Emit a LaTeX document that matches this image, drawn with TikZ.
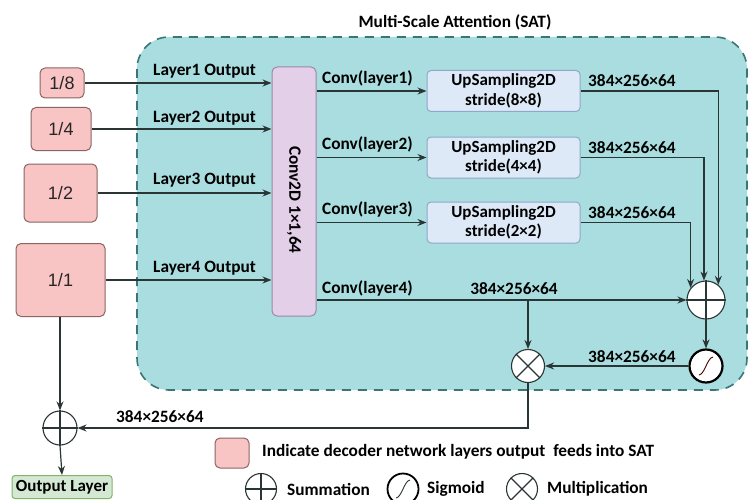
\documentclass[tikz,border=0pt]{standalone}
\usepackage{fontspec}
\setmainfont{Carlito}
\newfontfamily\arialf{Liberation Sans}
\usetikzlibrary{arrows.meta}
\definecolor{satfill}{HTML}{A9DDDF}
\definecolor{satline}{HTML}{3A7676}
\definecolor{pinkf}{HTML}{F8C4C4}
\definecolor{pinkd}{HTML}{8A6464}
\definecolor{lavf}{HTML}{E3CFE8}
\definecolor{lavd}{HTML}{9A88AA}
\definecolor{bluef}{HTML}{DDE9F7}
\definecolor{blued}{HTML}{8EA9C9}
\definecolor{greenf}{HTML}{D5E8D4}
\definecolor{greend}{HTML}{82B366}
\definecolor{ink}{HTML}{2A3535}
\tikzset{
  x=1pt, y=-1pt,
  lbl/.style={font=\fontsize{17.3}{19}\bfseries\selectfont, text=black, inner sep=0pt},
  dim/.style={font=\fontsize{17.3}{19}\bfseries\selectfont, text=black, inner sep=0pt},
  pinkbox/.style={draw=pinkd, fill=pinkf, line width=1pt, rounded corners=5pt, font=\arialf\fontsize{18}{20}\selectfont, text=black!85, inner sep=0pt},
  upbox/.style={draw=blued, fill=bluef, line width=1pt, rounded corners=4pt, minimum width=153pt, minimum height=41pt, inner sep=0pt, align=center, font=\fontsize{17}{19.5}\bfseries\selectfont},
  opc/.style={circle, draw=ink, fill=white, line width=1.1pt, inner sep=0pt},
  arr/.style={draw=ink, line width=1.2pt, -{Stealth[length=9pt,width=7pt]}},
  ln/.style={draw=ink, line width=1.1pt},
}
\begin{document}
\begin{tikzpicture}
\useasboundingbox (0,0) rectangle (749,500);
% SAT region
\draw[fill=satfill, draw=satline, line width=1.6pt, dash pattern=on 9pt off 7pt, rounded corners=32pt] (137,37) rectangle (747,390);
\node[lbl] (title) at (455,22) {Multi-Scale Attention (SAT)};

% pink input boxes
\node[pinkbox, minimum width=44pt, minimum height=30pt] (b8) at (62,83) {1/8};
\node[pinkbox, minimum width=60pt, minimum height=43pt] (b4) at (61,129) {1/4};
\node[pinkbox, minimum width=73pt, minimum height=58pt] (b2) at (60.5,193) {1/2};
\node[pinkbox, minimum width=89pt, minimum height=73pt] (b1) at (60.5,280) {1/1};

% conv2d
\node[draw=lavd, fill=lavf, line width=1pt, rounded corners=5pt, minimum width=44pt, minimum height=249pt, inner sep=0pt] (conv) at (294,191.5) {};
\node[lbl, rotate=-90] (convt) at (294,200) {Conv2D 1×1,64};

\draw[arr] (b8.east) -- (b8.east -| conv.west);
\draw[arr] (b4.east) -- (b4.east -| conv.west);
\draw[arr] (b2.east) -- (b2.east -| conv.west);
\draw[arr] (b1.east) -- (b1.east -| conv.west);
\node[lbl, anchor=west] (l1) at (153,71) {Layer1 Output};
\node[lbl, anchor=west] (l2) at (153,118) {Layer2 Output};
\node[lbl, anchor=west] (l3) at (153,180) {Layer3 Output};
\node[lbl, anchor=west] (l4) at (153,268) {Layer4 Output};

% upsampling
\node[upbox] (u1) at (503.5,91) {UpSampling2D\\stride(8×8)};
\node[upbox] (u2) at (503.5,157.5) {UpSampling2D\\stride(4×4)};
\node[upbox] (u3) at (503.5,222.5) {UpSampling2D\\stride(2×2)};
\draw[arr] (conv.east |- u1.west) -- (u1.west);
\draw[arr] (conv.east |- u2.west) -- (u2.west);
\draw[arr] (conv.east |- u3.west) -- (u3.west);
\node[lbl, anchor=west] (c1) at (322,78) {Conv(layer1)};
\node[lbl, anchor=west] (c2) at (322,144) {Conv(layer2)};
\node[lbl, anchor=west] (c3) at (322,209) {Conv(layer3)};
\node[lbl, anchor=west] (c4) at (322,288) {Conv(layer4)};

% operators
\node[opc, minimum size=38pt] (plus) at (706,300) {};
\draw[ln] (plus.north) -- (plus.south) (plus.west) -- (plus.east);
\node[opc, minimum size=33pt] (mult) at (528,366) {};
\draw[ln] (mult.45) -- (mult.225) (mult.135) -- (mult.315);
\node[opc, minimum size=33pt, line width=2.2pt, draw=black] (sig) at (706,366) {};
\draw[line width=0.9pt, draw=black!70!red] ([shift={(-7,9)}]sig.center) .. controls ([shift={(-1,8)}]sig.center) and ([shift={(1,-8)}]sig.center) .. ([shift={(7,-9)}]sig.center);

\draw[arr] (u1.east) -| (plus.51);
\draw[arr] (u2.east) -| (plus.96);
\draw[arr] (u3.east) -| (plus.142);
\node[dim, anchor=west] (d1) at (588,81) {384×256×64};
\node[dim, anchor=west] (d2) at (588,148) {384×256×64};
\node[dim, anchor=west] (d3) at (588,213) {384×256×64};

\draw[arr] (conv.east |- plus.west) -- (plus.west);
\node[dim] (d4) at (514,289) {384×256×64};
\draw[arr] (mult |- plus.west) -- (mult.north);
\draw[arr] (plus.south) -- (sig.north);
\draw[arr] (sig.west) -- (mult.east);
\node[dim, anchor=west] (d5) at (588,357) {384×256×64};

% final sum
\node[opc, minimum size=34pt] (lp) at (60,428) {};
\draw[ln] (lp.north) -- (lp.south) (lp.west) -- (lp.east);
\draw[arr] (mult.south) |- (lp.east);
\node[dim, anchor=west] (d6) at (116,417) {384×256×64};
\draw[arr] (b1.south -| lp.north) -- (lp.north);
\node[draw=greend, fill=greenf, line width=1pt, rounded corners=3pt, minimum width=100pt, minimum height=23pt, inner sep=0pt, font=\fontsize{17}{19}\bfseries\selectfont] (out) at (62,487) {Output Layer};
\draw[arr] (lp.south) -- (out.north);

% legend
\node[pinkbox, minimum width=34pt, minimum height=30pt] (lgp) at (232,453) {};
\node[lbl, anchor=west] (lgt) at (262,452) {Indicate decoder network layers output\ \ feeds into SAT};
\node[opc, minimum size=31pt, fill=none] (lgs) at (261,489) {};
\draw[ln] (lgs.north) -- (lgs.south) (lgs.west) -- (lgs.east);
\node[lbl, anchor=west] (lgst) at (287,489) {Summation};
\node[opc, minimum size=31pt, fill=none, line width=1.8pt, draw=black] (lgg) at (403,489) {};
\draw[line width=0.9pt, draw=ink] ([shift={(-7,9)}]lgg.center) .. controls ([shift={(-1,8)}]lgg.center) and ([shift={(1,-8)}]lgg.center) .. ([shift={(7,-9)}]lgg.center);
\node[lbl, anchor=west] (lggt) at (427,489) {Sigmoid};
\node[opc, minimum size=31pt, fill=none] (lgm) at (522,489) {};
\draw[ln] (lgm.45) -- (lgm.225) (lgm.135) -- (lgm.315);
\node[lbl, anchor=west] (lgmt) at (547,489) {Multiplication};
\end{tikzpicture}
\end{document}
